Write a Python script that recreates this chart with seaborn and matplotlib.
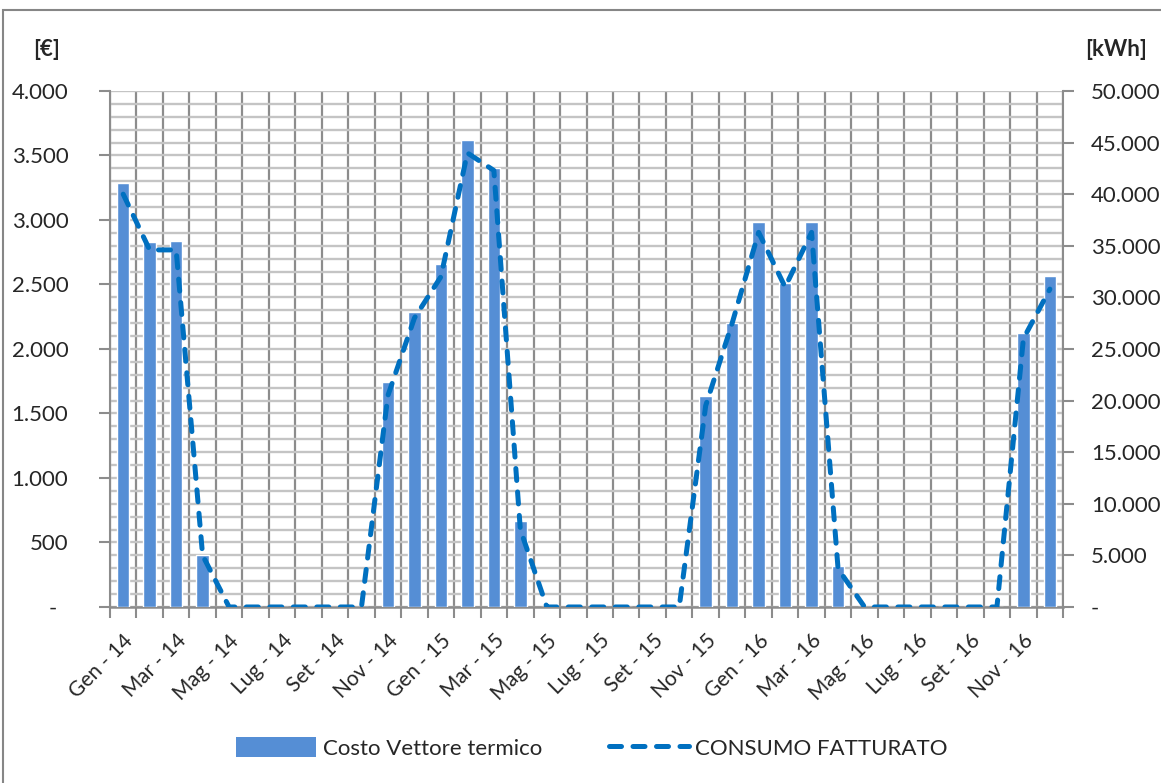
import numpy as np
import pandas as pd
import matplotlib
matplotlib.use("Agg")
import matplotlib.pyplot as plt
from matplotlib.ticker import FuncFormatter, MultipleLocator, FixedLocator
from matplotlib.patches import Rectangle, Patch
from matplotlib.lines import Line2D
import seaborn as sns

# ---- data ----
mesi = ["Gen", "Feb", "Mar", "Apr", "Mag", "Giu", "Lug", "Ago", "Set", "Ott", "Nov", "Dic"]
anni = ["14", "15", "16"]
months = [f"{m} - {a}" for a in anni for m in mesi]

costo = [3285, 2830, 2835, 400, 0, 0, 0, 0, 0, 0, 1745, 2290,
         2655, 3620, 3405, 670, 0, 0, 0, 0, 0, 0, 1637, 2200,
         2988, 2515, 2983, 316, 0, 0, 0, 0, 0, 0, 2127, 2569]
consumo = [40000, 34600, 34600, 5000, 0, 0, 0, 0, 0, 0, 20500, 28000,
           32000, 44000, 42300, 7500, 0, 0, 0, 0, 0, 0, 19500, 27500,
           36300, 31000, 36300, 3700, 0, 0, 0, 0, 0, 0, 26000, 30800]

df = pd.DataFrame({"mese": months, "costo": costo, "consumo": consumo,
                   "pos": np.arange(len(months))})

bar_color = "#558ED5"
line_color = "#0070C0"
grid_dark = "#8C8C8C"
grid_light = "#C4C4C4"

sns.set_theme(style="white")
plt.rcParams["font.family"] = ["Lato", "DejaVu Sans"]

fig = plt.figure(figsize=(11.61, 7.83), dpi=100)
ax = fig.add_axes([0.0947, 0.2248, 0.821, 0.659])

sns.barplot(data=df, x="mese", y="costo", color=bar_color, width=0.47,
            saturation=1, ax=ax, zorder=3)

ax2 = ax.twinx()
sns.lineplot(data=df, x="pos", y="consumo", ax=ax2, color=line_color,
             lw=3.6, zorder=4)
for l in ax2.lines:
    l.set_dashes((2.4, 2.3))
    l.set_dash_capstyle("round")

n = len(months)
ax.set_xlim(-0.5, n - 0.5)
ax.set_ylim(0, 4000)
ax2.set_ylim(0, 50000)

# gridlines
ax.yaxis.set_major_locator(MultipleLocator(500))
ax.yaxis.set_minor_locator(MultipleLocator(100))
ax.grid(True, which="minor", axis="y", color=grid_light, lw=1.7, zorder=0)
ax.grid(True, which="major", axis="y", color=grid_light, lw=1.7, zorder=0)
ax.xaxis.set_minor_locator(FixedLocator(np.arange(-0.5, n, 1.0)))
ax.grid(True, which="minor", axis="x", color=grid_dark, lw=1.6, zorder=1)
ax.grid(False, which="major", axis="x")
ax.set_axisbelow(True)

# x labels every other month
ax.set_xticks(np.arange(0, n, 2))
ax.set_xticklabels([months[i] for i in range(0, n, 2)], rotation=45,
                   ha="right", rotation_mode="anchor", fontsize=15)
ax.tick_params(axis="x", which="major", length=0, pad=17)
ax.tick_params(axis="x", which="minor", length=8, width=1.5, color=grid_dark,
               direction="out", bottom=True)

def fmt_eur(v, p):
    if abs(v) < 1e-9:
        return "-  "
    return f"{int(round(v)):,}".replace(",", ".")

def fmt_kwh(v, p):
    if abs(v) < 1e-9:
        return "-"
    return f"{int(round(v)):,}".replace(",", ".")

ax.yaxis.set_major_formatter(FuncFormatter(fmt_eur))
ax2.yaxis.set_major_locator(MultipleLocator(5000))
ax2.yaxis.set_major_formatter(FuncFormatter(fmt_kwh))
ax.tick_params(axis="y", which="major", length=8, width=1.5, color=grid_dark,
               labelsize=16, pad=22, left=True, direction="out")
ax.tick_params(axis="y", which="minor", length=0)
ax2.tick_params(axis="y", which="major", length=8, width=1.5, color=grid_dark,
                labelsize=16, pad=12, right=True, direction="out")

ax.set_xlabel("")
ax.set_ylabel("")
ax2.set_ylabel("")
ax2.grid(False)

for a in (ax, ax2):
    for s in a.spines.values():
        s.set_visible(False)
ax.spines["left"].set_visible(True)
ax.spines["left"].set_color(grid_dark)
ax.spines["left"].set_linewidth(1.5)
ax.spines["bottom"].set_visible(True)
ax.spines["bottom"].set_color(grid_dark)
ax.spines["bottom"].set_linewidth(1.8)
ax2.spines["right"].set_visible(True)
ax2.spines["right"].set_color(grid_dark)
ax2.spines["right"].set_linewidth(1.5)

# unit labels
fig.text(33 / 1161, 1 - 49 / 783, "[€]", fontsize=16, fontweight="bold",
         ha="left", va="center")
fig.text(1085 / 1161, 1 - 49 / 783, "[kWh]", fontsize=16, fontweight="bold",
         ha="left", va="center")

# legend
handles = [Patch(facecolor=bar_color, edgecolor="none"),
           Line2D([0], [0], color=line_color, lw=3.6, dashes=(2.4, 2.3),
                  dash_capstyle="round")]
fig.legend(handles, ["Costo Vettore termico", "CONSUMO FATTURATO"],
           loc="center", bbox_to_anchor=(592 / 1161, 1 - 748 / 783), ncol=2,
           frameon=False, fontsize=16, handlelength=3.6, handleheight=1.0,
           columnspacing=3.0, handletextpad=0.3)

# chart border
fig.patches.append(Rectangle((3 / 1161, -0.02), 1.2, 1 + 0.02 - 10 / 783,
                             transform=fig.transFigure, fill=False,
                             edgecolor="#868686", lw=1.5))

fig.savefig("out.png", dpi=100, facecolor="white")
